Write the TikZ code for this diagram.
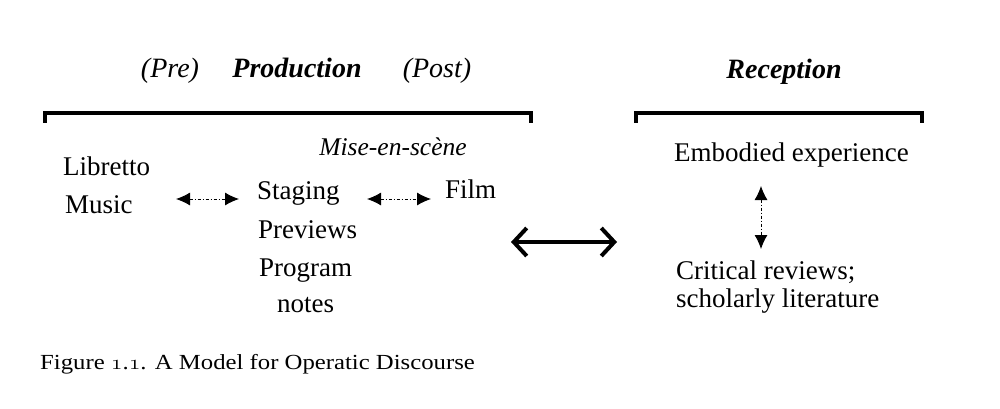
\documentclass[tikz,border=0pt]{standalone}
\usepackage{fontspec}
\setmainfont{Liberation Serif}
\usetikzlibrary{arrows.meta}
\newcommand{\osn}[1]{\ensuremath{\mathnormal{#1}}}
\begin{document}
\begin{tikzpicture}[x=1pt,y=-1pt,
  head/.style={font=\fontsize{28}{32}\selectfont\bfseries\itshape, inner sep=0pt, anchor=base},
  sub/.style={font=\fontsize{28}{32}\selectfont\itshape, inner sep=0pt, anchor=base},
  lbl/.style={font=\fontsize{27}{32}\selectfont, inner sep=0pt, anchor=base west},
  bracket/.style={line width=3.5pt, line cap=rect},
  darrow/.style={line width=0.9pt, dash pattern=on 3pt off 2pt on 1pt off 2pt, {Latex[length=14pt,width=13pt]}-{Latex[length=14pt,width=13pt]}},
  bigarrow/.style={line width=4pt, {Straight Barb[length=13pt,width=28pt,line width=4pt]}-{Straight Barb[length=13pt,width=28pt,line width=4pt]}}]
\useasboundingbox (0,0) rectangle (1000,408);
% headers
\node[sub]  (pre)  at (170,77) {(Pre)};
\node[head] (prod) at (297,77) {Production};
\node[sub]  (post) at (437,77) {(Post)};
\node[head] (rec)  at (784,78) {Reception};
% brackets
\draw[bracket] (45,121) -- (45,113) -- (531,113) -- (531,121);
\draw[bracket] (636,121) -- (636,113) -- (922,113) -- (922,121);
% production items
\node[sub, font=\fontsize{25.5}{30}\selectfont\itshape] (mise) at (393,155) {Mise-en-scène};
\node[lbl] (lib)   at (63,175) {Libretto};
\node[lbl] (music) at (65,213) {Music};
\node[lbl] (stag)  at (257,199) {Staging};
\node[lbl] (prev)  at (258,238) {Previews};
\node[lbl] (prog)  at (259,276) {Program};
\node[lbl] (notes) at (277,312) {notes};
\node[lbl] (film)  at (445,198) {Film};
% reception items
\node[lbl] (emb)  at (674,161) {Embodied experience};
\node[lbl] (crit) at (676,279) {Critical reviews;};
\node[lbl] (schol) at (676,307) {scholarly literature};
% connector ends
\coordinate (a1) at (176,199);
\coordinate (a2) at (239,199);
\coordinate (b1) at (367,199);
\coordinate (b2) at (431,199);
\coordinate (c1) at (511,242);
\coordinate (c2) at (617,242);
\coordinate (d1) at (761,186);
\coordinate (d2) at (761,249);
\draw[darrow] (a1) -- (a2);
\draw[darrow] (b1) -- (b2);
\draw[darrow] (d1) -- (d2);
\draw[bigarrow] (c1) -- (c2);
% caption
\node[inner sep=0pt, anchor=base west, font=\fontsize{21.5}{25}\selectfont] (cap) at (40,369) {\scalebox{1.15}[1]{Figure \osn{1}.\osn{1}. A Model for Operatic Discourse}};
\end{tikzpicture}
\end{document}
